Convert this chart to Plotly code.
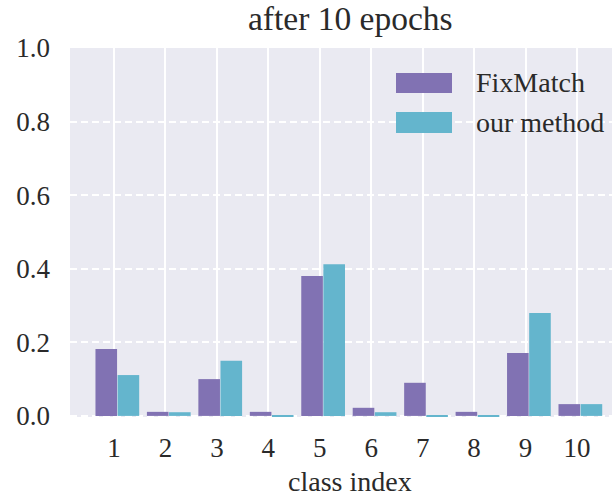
import plotly.graph_objects as go

classes = [1, 2, 3, 4, 5, 6, 7, 8, 9, 10]
fixmatch = [0.182, 0.011, 0.100, 0.011, 0.380, 0.022, 0.090, 0.011, 0.171, 0.032]
our_method = [0.111, 0.010, 0.150, -0.004, 0.412, 0.010, -0.004, -0.004, 0.280, 0.032]
series_names = ["FixMatch", "our method"]
colors = ["#8172B3", "#64B5CD"]
y_ticks = [0.0, 0.2, 0.4, 0.6, 0.8, 1.0]

W, H = 612, 496
ML, MR, MT, MB = 70, 0, 48, 79
FONT = "Liberation Serif, Times New Roman, serif"
TXT = "#2a2a2a"

fig = go.Figure()
fig.add_trace(go.Bar(x=classes, y=fixmatch, name=series_names[0],
                     marker=dict(color=colors[0], line=dict(width=0)),
                     width=0.42, offset=-0.36, showlegend=False))
fig.add_trace(go.Bar(x=classes, y=our_method, name=series_names[1],
                     marker=dict(color=colors[1], line=dict(width=0)),
                     width=0.42, offset=0.07, showlegend=False))

# helpers: figure pixels -> plot-domain ("paper") coords
PW = W - ML - MR
PH = H - MT - MB

def px(x):
    return (x - ML) / PW

def py(y):
    return (H - MB - y) / PH

shapes = []
annotations = []
leg_rows = [(73, 93), (112, 133)]
for (y0, y1), name, c in zip(leg_rows, series_names, colors):
    shapes.append(dict(type="rect", xref="paper", yref="paper",
                       x0=px(396), x1=px(452), y0=py(y1), y1=py(y0),
                       fillcolor=c, line=dict(width=0)))
    annotations.append(dict(xref="paper", yref="paper", x=px(474), y=py((y0 + y1) / 2),
                            text=name, showarrow=False, xanchor="left", yanchor="middle",
                            font=dict(family=FONT, size=28, color=TXT)))

annotations.append(dict(xref="paper", yref="paper", x=px(350), y=py(18),
                        text="after 10 epochs", showarrow=False,
                        xanchor="center", yanchor="middle",
                        font=dict(family=FONT, size=33.5, color=TXT)))
annotations.append(dict(xref="paper", yref="paper", x=px(350), y=py(481),
                        text="class index", showarrow=False,
                        xanchor="center", yanchor="middle",
                        font=dict(family=FONT, size=28, color=TXT)))

fig.update_layout(
    width=W, height=H,
    margin=dict(l=ML, r=MR, t=MT, b=MB),
    paper_bgcolor="white",
    plot_bgcolor="#EAEAF2",
    barmode="overlay",
    font=dict(family=FONT, size=27, color=TXT),
    shapes=shapes,
    annotations=annotations,
    xaxis=dict(range=[0.145, 10.68], tickmode="array", tickvals=classes,
               ticktext=[str(c) for c in classes], showgrid=True,
               gridcolor="white", gridwidth=2, zeroline=False, showline=False,
               ticks="", ticklabelstandoff=12, automargin=False),
    yaxis=dict(range=[-0.003, 1.0], tickmode="array", tickvals=y_ticks,
               ticktext=[f"{v:.1f}" for v in y_ticks], showgrid=True,
               gridcolor="white", gridwidth=2, griddash="7px,4px",
               zeroline=False, showline=False, ticks="", ticklabelstandoff=19,
               automargin=False),
)

fig.write_html("out.html",
               config={"displayModeBar": False},
               post_script="document.body.style.margin='0';document.body.style.overflow='hidden';")
